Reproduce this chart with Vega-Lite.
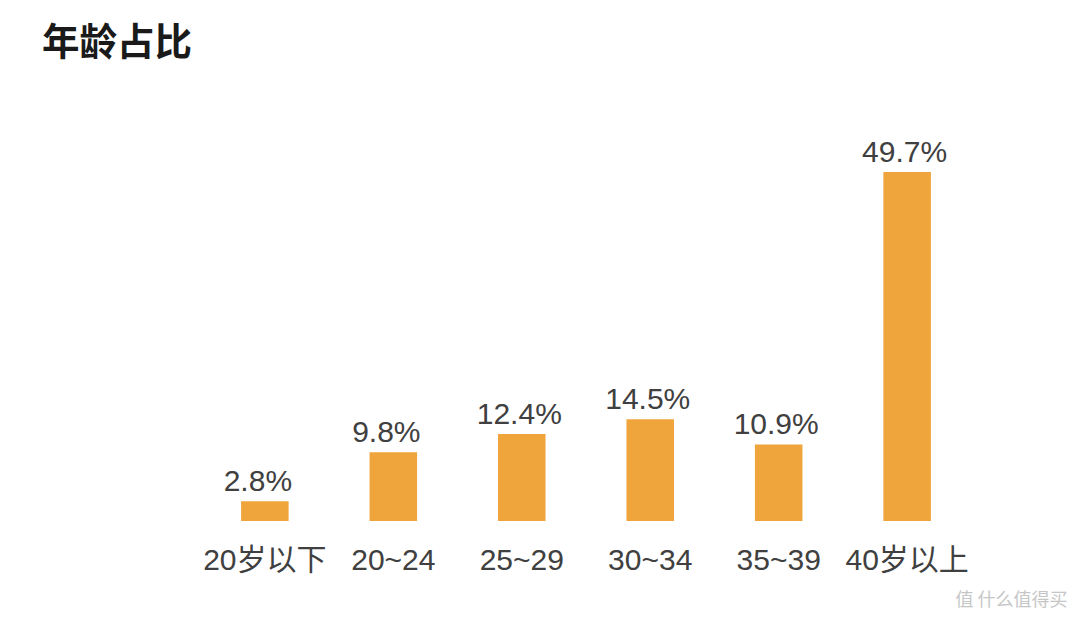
{"$schema":"https://vega.github.io/schema/vega-lite/v6.json","width":772,"height":349,"padding":{"left":200,"top":172,"right":108,"bottom":99},"autosize":"none","background":"white","title":{"text":"年龄占比","font":"Noto Sans CJK SC","fontSize":37.5,"fontWeight":"bold","color":"#1a1a1a","anchor":"start","frame":"group","dx":-158,"dy":-76,"offset":0},"data":{"values":[{"age":"20岁以下","share":2.8,"label":"2.8%"},{"age":"20~24","share":9.8,"label":"9.8%"},{"age":"25~29","share":12.4,"label":"12.4%"},{"age":"30~34","share":14.5,"label":"14.5%"},{"age":"35~39","share":10.9,"label":"10.9%"},{"age":"40岁以上","share":49.7,"label":"49.7%"}]},"encoding":{"x":{"field":"age","type":"nominal","sort":null,"scale":{"paddingInner":0.63,"paddingOuter":0.32},"axis":{"title":"值 什么值得买","titleX":811,"titleY":70,"titleAlign":"center","titleFont":"Noto Sans CJK SC","titleFontSize":18,"titleFontWeight":"normal","titleColor":"#c6c6c6","domain":false,"ticks":false,"labelAngle":0,"labelFont":"Liberation Sans, Noto Sans CJK SC","labelFontSize":30,"labelColor":"#404040","labelPadding":24}},"y":{"field":"share","type":"quantitative","scale":{"domain":[0,49.7]},"axis":null}},"layer":[{"mark":{"type":"bar","color":"#F0A43C"}},{"transform":[{"filter":"datum.share < 10"}],"mark":{"type":"text","baseline":"bottom","dy":-4,"dx":-7,"font":"Liberation Sans","fontSize":30,"color":"#404040"},"encoding":{"text":{"field":"label"}}},{"transform":[{"filter":"datum.share >= 10"}],"mark":{"type":"text","baseline":"bottom","dy":-4,"dx":-2.5,"font":"Liberation Sans","fontSize":30,"color":"#404040"},"encoding":{"text":{"field":"label"}}}],"config":{"view":{"stroke":null}}}
